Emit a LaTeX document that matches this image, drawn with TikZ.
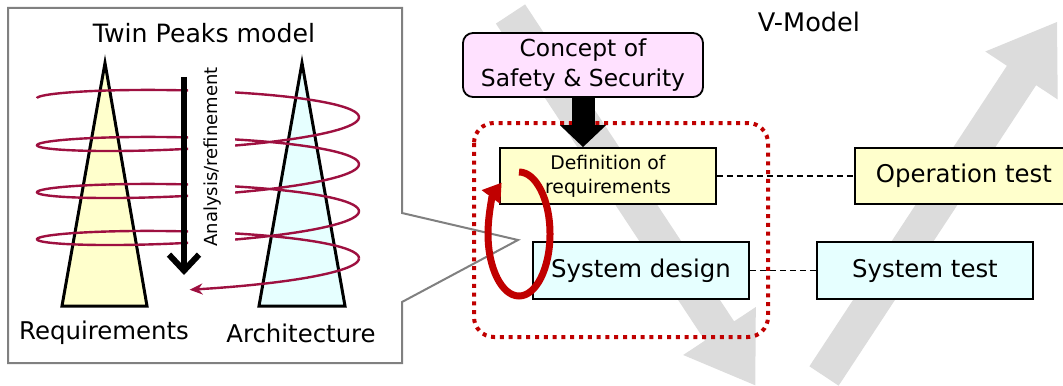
\documentclass[tikz,border=0pt]{standalone}
\usepackage{fontspec}
\setmainfont{DejaVu Sans}
\usepackage{tikz}
\usetikzlibrary{arrows.meta,positioning,calc}
\definecolor{vgray}{RGB}{220,220,220}
\definecolor{reqyellow}{RGB}{255,255,204}
\definecolor{arccyan}{RGB}{230,255,255}
\definecolor{conpink}{RGB}{255,225,255}
\definecolor{loopred}{RGB}{192,0,0}
\definecolor{helixred}{RGB}{158,16,64}
\definecolor{callgray}{RGB}{128,128,128}
\tikzset{
  vbox/.style={draw,line width=0.9pt,align=center,inner sep=0pt,minimum width=108pt,minimum height=28pt,font=\fontsize{12.2pt}{15pt}\selectfont},
  peak/.style={draw,line width=1.5pt,line join=miter},
  lbl/.style={inner sep=0pt,font=\fontsize{12.2pt}{15pt}\selectfont},
  dsh/.style={line width=0.7pt,dash pattern=on 3pt off 2pt},
  helix/.style={helixred,line width=1.2pt}
}

\begin{document}
\begin{tikzpicture}[x=0.5pt,y=-0.5pt]
  \useasboundingbox (0,0) rectangle (1063,385);
  \clip (0,0) rectangle (1063,385);
  %% V-model flow arrows in the background
  \fill[vgray] (495.9,23.6) -- (704.9,340.6) -- (683.2,355) -- (755.3,385.3)
    -- (755.8,307) -- (734.1,321.4) -- (525.1,4.4) -- cycle;
  \fill[vgray] (809.4,366.3) -- (1006.9,65.8) -- (985.3,51.5) -- (1057,22)
    -- (1057.7,99.5) -- (1036.1,85.2) -- (838.6,385.7) -- cycle;

  %% twin peaks callout
  \draw[callgray,line width=1pt,fill=white] (8,8) -- (402,8) -- (402,213) -- (518,240)
    -- (402,302) -- (402,363) -- (8,363) -- cycle;
  \node[lbl,font=\fontsize{12.6pt}{15pt}\selectfont] (tpTitle) at (204,33) {Twin Peaks model};
  \filldraw[peak,fill=reqyellow] (105,63) -- (147,306) -- (62,306) -- cycle;
  \filldraw[peak,fill=arccyan] (302,63) -- (345,306) -- (259,306) -- cycle;
  \node[lbl] (tpReq) at (104,333) {Requirements};
  \node[lbl] (tpArc) at (301,333) {Architecture};
  % helix, broken around the refinement arrow
  \begin{scope}
    \clip (0,0) rectangle (188,385) (235,0) rectangle (400,385);
    \draw[helix] plot[domain=-180:1080,samples=320]
      ({198+161*cos(\x)},{119.5+\x/360*47+17*sin(\x)-2.25*cos(\x)});
  \end{scope}
  \draw[helix,-{Stealth[length=6.5pt,width=5.5pt]}] plot[domain=1080:1173,samples=40]
      ({198+161*cos(\x)},{119.5+\x/360*47+17*sin(\x)-2.25*cos(\x)});
  \coordinate (anTop) at (184,77);
  \coordinate (anEnd) at (184,275);
  \draw[line width=3pt,-{Straight Barb[length=8pt,width=15pt]}] (anTop) -- (anEnd);
  \node[inner sep=0pt,rotate=90,font=\fontsize{9pt}{11pt}\selectfont] (anLbl) at (213,157) {Analysis/refinement};

  %% V-model
  \node[lbl,font=\fontsize{12.8pt}{15pt}\selectfont] (vTitle) at (809,22) {V-Model};
  \node[vbox,fill=conpink,rounded corners=5pt,minimum width=120pt,minimum height=32pt,
        font=\fontsize{11.7pt}{15pt}\selectfont] (vCon) at (583,65) {Concept of\\Safety \& Security};
  \node[vbox,fill=reqyellow,font=\fontsize{9.4pt}{12pt}\selectfont] (vReq) at (608,176) {Definition of\\requirements};
  \node[vbox,fill=arccyan,minimum height=28.5pt] (vSys) at (641,270.5) {System design};
  \node[vbox,fill=reqyellow,minimum width=109pt] (vOpt) at (964,176) {Operation test};
  \node[vbox,fill=arccyan,minimum height=28.5pt] (vTst) at (925,270.5) {System test};
  \draw[dsh] (vReq.east) -- (vOpt.west);
  \draw[dsh] (vSys.east) -- (vTst.west);
  \draw[loopred,line width=2pt,dash pattern=on 2pt off 2.4pt,rounded corners=10pt]
    (474,123) rectangle (768,337);
  \draw[line width=11.5pt,-{Triangle[width=22.5pt,length=11pt]}] (vCon.south) -- (vCon.south |- vReq.north);
  % iteration loop
  \draw[loopred,line width=3.5pt,-{Triangle[width=11pt,length=9pt]}]
    (519,172) arc[start angle=-90,end angle=236,x radius=31,y radius=62];
\end{tikzpicture}
\end{document}
